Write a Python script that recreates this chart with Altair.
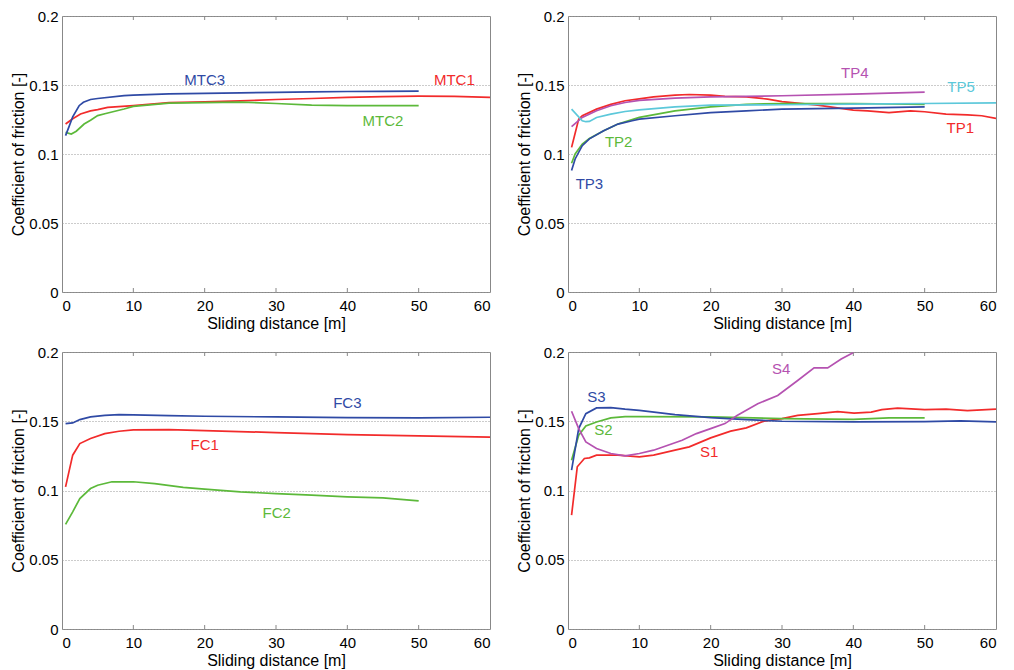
import altair as alt
import pandas as pd

FONT = "Liberation Sans"
RED = "#f22b2b"
GREEN = "#5cb93a"
BLUE = "#2f4aa5"
MAGENTA = "#b552b1"
CYAN = "#5cc8da"

X_TICKS = [0, 10, 20, 30, 40, 50, 60]
Y_TICKS = [0, 0.05, 0.1, 0.15, 0.2]
INNER_TICKS = [10, 20, 30, 40, 50]

# ---------------- Panel 1: MTC ----------------
MTC1_x = [0.5, 1.5, 2.6, 4, 5, 6.4, 10, 15, 20, 25, 30, 35, 40, 45, 50, 55, 60]
MTC1_y = [0.1217, 0.1255, 0.129, 0.1312, 0.1322, 0.1338, 0.135, 0.1372, 0.1377, 0.1385, 0.1395, 0.1402, 0.141, 0.1416, 0.1419, 0.1417, 0.141]
MTC2_x = [0.5, 1.3, 2, 3.1, 4, 5, 6, 8.7, 10, 15, 20, 25, 30, 35, 40, 45, 50]
MTC2_y = [0.1157, 0.1145, 0.1165, 0.1217, 0.1245, 0.1278, 0.1292, 0.1326, 0.1345, 0.1368, 0.1373, 0.1376, 0.1366, 0.1354, 0.135, 0.135, 0.135]
MTC3_x = [0.5, 1, 1.5, 2.4, 3, 4, 5, 8.7, 10, 15, 20, 25, 30, 35, 40, 45, 50]
MTC3_y = [0.1133, 0.12, 0.127, 0.135, 0.1375, 0.1395, 0.1402, 0.1423, 0.1426, 0.1435, 0.1439, 0.1443, 0.1446, 0.145, 0.1453, 0.1454, 0.1455]
MTC_labels = ["MTC1", "MTC2", "MTC3"]
MTC_label_x = [55, 45, 20]
MTC_label_y = [0.1535, 0.1236, 0.1535]

# ---------------- Panel 2: TP ----------------
TP1_x = [0.5, 1, 1.5, 2, 4, 6, 8, 10, 12, 15, 17, 20, 22, 25, 28, 30, 35, 40, 42, 45, 48, 50, 53, 56, 58, 60]
TP1_y = [0.1048, 0.115, 0.1253, 0.1277, 0.1325, 0.136, 0.1386, 0.14, 0.1414, 0.1427, 0.1431, 0.1427, 0.1417, 0.1414, 0.1398, 0.138, 0.1354, 0.1318, 0.1313, 0.13, 0.1313, 0.1306, 0.1289, 0.1284, 0.1277, 0.1258]
TP2_x = [0.5, 1, 2, 3, 5, 7, 10, 15, 20, 25, 30, 40, 50]
TP2_y = [0.0933, 0.1, 0.1072, 0.1113, 0.1169, 0.1217, 0.1265, 0.1313, 0.1342, 0.136, 0.1366, 0.1366, 0.136]
TP3_x = [0.5, 1, 2, 3, 5, 7, 9, 10, 15, 20, 25, 30, 40, 50]
TP3_y = [0.088, 0.0964, 0.106, 0.111, 0.1169, 0.1217, 0.1241, 0.1253, 0.1277, 0.13, 0.1313, 0.1325, 0.1333, 0.1342]
TP4_x = [0.5, 2, 4, 6, 8, 10, 15, 20, 30, 40, 50]
TP4_y = [0.1198, 0.1265, 0.1313, 0.135, 0.1373, 0.1388, 0.1405, 0.1414, 0.1422, 0.1434, 0.1448]
TP5_x = [0.5, 2, 2.5, 3, 4, 6, 8, 10, 15, 20, 30, 40, 50, 60]
TP5_y = [0.1325, 0.1241, 0.1234, 0.1236, 0.1265, 0.1289, 0.1308, 0.132, 0.1342, 0.1354, 0.1357, 0.1361, 0.1366, 0.1371]
TP_labels = ["TP1", "TP2", "TP3", "TP4", "TP5"]
TP_label_x = [55, 7.1, 3.0, 40.2, 55.1]
TP_label_y = [0.1186, 0.1089, 0.0783, 0.1586, 0.1487]

# ---------------- Panel 3: FC ----------------
FC1_x = [0.5, 1.5, 2.5, 4, 6, 8, 10, 15, 20, 30, 40, 50, 60]
FC1_y = [0.1026, 0.1255, 0.1339, 0.1375, 0.1411, 0.1428, 0.1438, 0.144, 0.1433, 0.1418, 0.1404, 0.1394, 0.1385]
FC2_x = [0.5, 1.5, 2.5, 4, 5, 7, 10, 13, 17, 20, 25, 30, 35, 40, 45, 50]
FC2_y = [0.0755, 0.0846, 0.0942, 0.1014, 0.1038, 0.1063, 0.1063, 0.105, 0.1022, 0.101, 0.099, 0.0978, 0.0966, 0.0954, 0.0947, 0.0925]
FC3_x = [0.5, 1.5, 2.5, 4, 6, 8, 10, 15, 20, 30, 40, 50, 60]
FC3_y = [0.1483, 0.1488, 0.1512, 0.1531, 0.1543, 0.1548, 0.1546, 0.1541, 0.1536, 0.1531, 0.1526, 0.1524, 0.1529]
FC_labels = ["FC1", "FC2", "FC3"]
FC_label_x = [20, 30.1, 40]
FC_label_y = [0.1332, 0.0834, 0.1632]

# ---------------- Panel 4: S ----------------
S1_x = [0.5, 1.3, 2.3, 3, 4, 7, 10, 12, 15, 17, 20, 22.8, 25, 27.5, 30, 32.2, 35, 37.8, 40.1, 42.5, 44, 46.2, 50, 53, 56, 60]
S1_y = [0.0822, 0.1171, 0.1231, 0.1236, 0.1255, 0.1255, 0.1243, 0.1255, 0.1291, 0.1315, 0.138, 0.1429, 0.1452, 0.1501, 0.1519, 0.1542, 0.1555, 0.157, 0.1559, 0.1566, 0.1584, 0.1595, 0.1584, 0.1587, 0.1577, 0.1587]
S2_x = [0.5, 1.5, 2.5, 4, 6, 8, 10, 20, 30, 40, 45, 50]
S2_y = [0.1219, 0.1399, 0.1466, 0.1495, 0.1524, 0.1534, 0.1534, 0.1531, 0.1519, 0.1514, 0.1524, 0.1524]
S3_x = [0.5, 1.5, 2.5, 4, 6, 8, 10, 15, 20, 25, 30, 40, 50, 55, 60]
S3_y = [0.1147, 0.1447, 0.1555, 0.1596, 0.1599, 0.1587, 0.1579, 0.1548, 0.1526, 0.1512, 0.15, 0.1495, 0.1498, 0.1502, 0.1495]
S4_x = [0.5, 1.5, 2.5, 4, 6, 8, 10, 12, 14, 16, 18, 20, 22, 23.7, 26.6, 29.4, 32.2, 34.5, 36.4, 38.3, 40.1]
S4_y = [0.1572, 0.1447, 0.1351, 0.1303, 0.1267, 0.125, 0.1267, 0.1291, 0.1327, 0.1363, 0.1411, 0.1447, 0.1483, 0.1542, 0.1626, 0.1686, 0.1794, 0.1885, 0.1885, 0.195, 0.1998]
S_labels = ["S1", "S2", "S3", "S4"]
S_label_x = [19.8, 4.96, 4.0, 29.9]
S_label_y = [0.1279, 0.1435, 0.1675, 0.1875]


def panel(series, label_names, label_x, label_y, H, W=428):
    rows = []
    for name, (xs, ys, _) in series.items():
        for a, b in zip(xs, ys):
            rows.append({"x": a, "y": b, "s": name})
    df = pd.DataFrame(rows)
    names = list(series)
    colors = [series[n][2] for n in names]
    lab = pd.DataFrame({"x": label_x, "y": label_y, "s": label_names})
    tick_df = pd.DataFrame({"x": INNER_TICKS})

    xscale = alt.Scale(domain=[0, 60], nice=False, zero=False)
    yscale = alt.Scale(domain=[0, 0.2], nice=False)
    cscale = alt.Scale(domain=names, range=colors)

    xenc = alt.X("x:Q", scale=xscale,
                 axis=alt.Axis(values=X_TICKS, title="Sliding distance [m]", grid=False,
                               ticks=False, domain=False, labelPadding=6, titlePadding=2,
                               format="~g", labelFont=FONT, labelFontSize=15,
                               labelColor="#000000", titleFont=FONT, titleFontSize=16,
                               titleColor="#000000", titleFontWeight="normal"))
    yenc = alt.Y("y:Q", scale=yscale,
                 axis=alt.Axis(values=Y_TICKS, title="Coefficient of friction [-]", grid=True,
                               gridDash=[1, 2], gridColor="#999999", gridWidth=1,
                               ticks=False, domain=False, format="~g",
                               labelPadding=4, titlePadding=2, labelFont=FONT,
                               labelFontSize=15, labelColor="#000000", titleFont=FONT,
                               titleFontSize=16, titleColor="#000000",
                               titleFontWeight="normal"))

    lines = alt.Chart(df).mark_line(strokeWidth=1.7, clip=True).encode(
        x=xenc, y=yenc, color=alt.Color("s:N", scale=cscale, legend=None))
    texts = alt.Chart(lab).mark_text(fontSize=15, font=FONT, align="center",
                                     baseline="middle").encode(
        x=alt.X("x:Q", scale=xscale), y=alt.Y("y:Q", scale=yscale),
        text="s:N", color=alt.Color("s:N", scale=cscale, legend=None))
    top_ticks = alt.Chart(tick_df).mark_rule(color="#888888", strokeWidth=1).encode(
        x=alt.X("x:Q", scale=xscale), y=alt.value(0), y2=alt.value(4))
    bot_ticks = alt.Chart(tick_df).mark_rule(color="#888888", strokeWidth=1).encode(
        x=alt.X("x:Q", scale=xscale), y=alt.value(H - 4), y2=alt.value(H))
    return alt.layer(lines, texts, top_ticks, bot_ticks).resolve_scale(color="independent").properties(width=W, height=H)


p1 = panel({"MTC1": (MTC1_x, MTC1_y, RED), "MTC2": (MTC2_x, MTC2_y, GREEN),
            "MTC3": (MTC3_x, MTC3_y, BLUE)}, MTC_labels, MTC_label_x, MTC_label_y, 276)
p2 = panel({"TP1": (TP1_x, TP1_y, RED), "TP2": (TP2_x, TP2_y, GREEN),
            "TP3": (TP3_x, TP3_y, BLUE), "TP4": (TP4_x, TP4_y, MAGENTA),
            "TP5": (TP5_x, TP5_y, CYAN)}, TP_labels, TP_label_x, TP_label_y, 276)
p3 = panel({"FC1": (FC1_x, FC1_y, RED), "FC2": (FC2_x, FC2_y, GREEN),
            "FC3": (FC3_x, FC3_y, BLUE)}, FC_labels, FC_label_x, FC_label_y, 277)
p4 = panel({"S1": (S1_x, S1_y, RED), "S2": (S2_x, S2_y, GREEN),
            "S3": (S3_x, S3_y, BLUE), "S4": (S4_x, S4_y, MAGENTA)},
           S_labels, S_label_x, S_label_y, 277)

chart = alt.concat(p1, p2, p3, p4, columns=2, spacing={"row": 60, "column": 78},
                   bounds="flush").properties(
    padding={"left": 2, "top": 0, "right": 0, "bottom": 0},
    background="white"
).configure_view(stroke="#888888", strokeWidth=1)

chart.save("out.html", embed_options={"renderer": "svg", "actions": False})
